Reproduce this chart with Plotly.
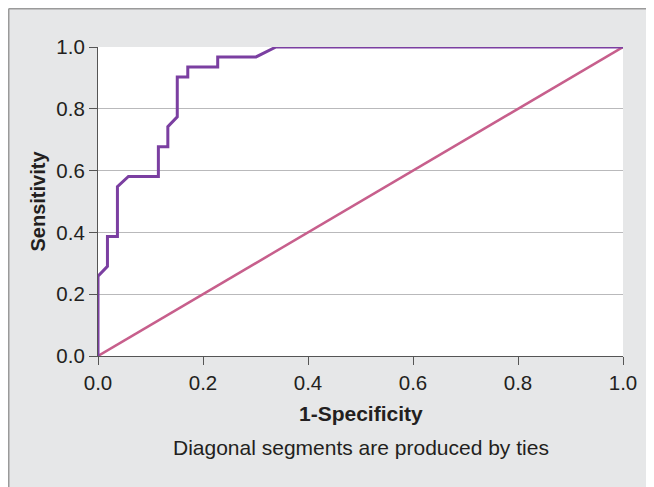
import plotly.graph_objects as go

# ROC curve points (1-specificity, sensitivity)
fpr = [0.0, 0.0, 0.018, 0.018, 0.037, 0.037, 0.058, 0.115, 0.115, 0.133, 0.133,
       0.151, 0.151, 0.171, 0.171, 0.228, 0.228, 0.301, 0.339, 1.0]
tpr = [0.0, 0.258, 0.290, 0.387, 0.387, 0.548, 0.581, 0.581, 0.677, 0.677, 0.742,
       0.774, 0.903, 0.903, 0.935, 0.935, 0.968, 0.968, 1.0, 1.0]
ref_x = [0.0, 1.0]
ref_y = [0.0, 1.0]
tick_vals = [0.0, 0.2, 0.4, 0.6, 0.8, 1.0]
tick_text = ["0.0", "0.2", "0.4", "0.6", "0.8", "1.0"]

# page has an 8px body margin; figure occupies page x 8..654, y 8..487
OFF = 8
W, H = 654 - OFF, 487 - OFF
L, R, T, B = 98 - OFF, 654 - 623, 47 - OFF, 487 - 356
pw, ph = W - L - R, H - T - B

def px_x(p):  # page pixel -> paper x
    return (p - OFF - L) / pw

def px_y(p):  # page pixel -> paper y
    return (H - B - (p - OFF)) / ph

fig = go.Figure()
fig.add_trace(go.Scatter(x=ref_x, y=ref_y, mode="lines",
                         line=dict(color="#c75f8c", width=2.5), hoverinfo="skip"))
fig.add_trace(go.Scatter(x=fpr, y=tpr, mode="lines",
                         line=dict(color="#7b3fa1", width=3), hoverinfo="skip"))

font_c = "#231f20"
FAM = "Liberation Sans, Arial"
axis_common = dict(range=[0, 1], tickvals=tick_vals, ticktext=tick_text,
                   ticks="outside", ticklen=8, tickcolor="#555555", tickwidth=1.2,
                   showline=True, linecolor="#555555", linewidth=1.2,
                   tickfont=dict(family=FAM, size=20.5, color=font_c),
                   zeroline=False, fixedrange=True)
fig.update_xaxes(**axis_common, showgrid=False)
fig.update_yaxes(**axis_common, showgrid=True, gridcolor="#b9b9bb", gridwidth=1.2)

shapes = [
    dict(type="line", xref="paper", yref="paper", x0=px_x(OFF + 0.75), x1=px_x(660), y0=px_y(OFF + 0.75), y1=px_y(OFF + 0.75),
         line=dict(color="#9a9a9a", width=1.5), layer="above"),
    dict(type="line", xref="paper", yref="paper", x0=px_x(OFF + 0.75), x1=px_x(OFF + 0.75), y0=px_y(OFF + 0.75), y1=px_y(495),
         line=dict(color="#9a9a9a", width=1.5), layer="above"),
]

annotations = [
    dict(text="<b>1-Specificity</b>", xref="paper", yref="paper", x=0.5, y=px_y(413),
         showarrow=False, xanchor="center", yanchor="middle",
         font=dict(family=FAM, size=21, color=font_c)),
    dict(text="Diagonal segments are produced by ties", xref="paper", yref="paper", x=0.5, y=px_y(447),
         showarrow=False, xanchor="center", yanchor="middle",
         font=dict(family=FAM, size=21, color=font_c)),
    dict(text="<b>Sensitivity</b>", xref="paper", yref="paper", x=px_x(37), y=0.5, textangle=-90,
         showarrow=False, xanchor="center", yanchor="middle",
         font=dict(family=FAM, size=20, color=font_c)),
]

fig.update_layout(width=W, height=H, margin=dict(l=L, r=R, t=T, b=B, pad=0),
                  paper_bgcolor="#e6e7e8", plot_bgcolor="white", showlegend=False,
                  shapes=shapes, annotations=annotations)

fig.write_html("out.html", config={"displayModeBar": False})
